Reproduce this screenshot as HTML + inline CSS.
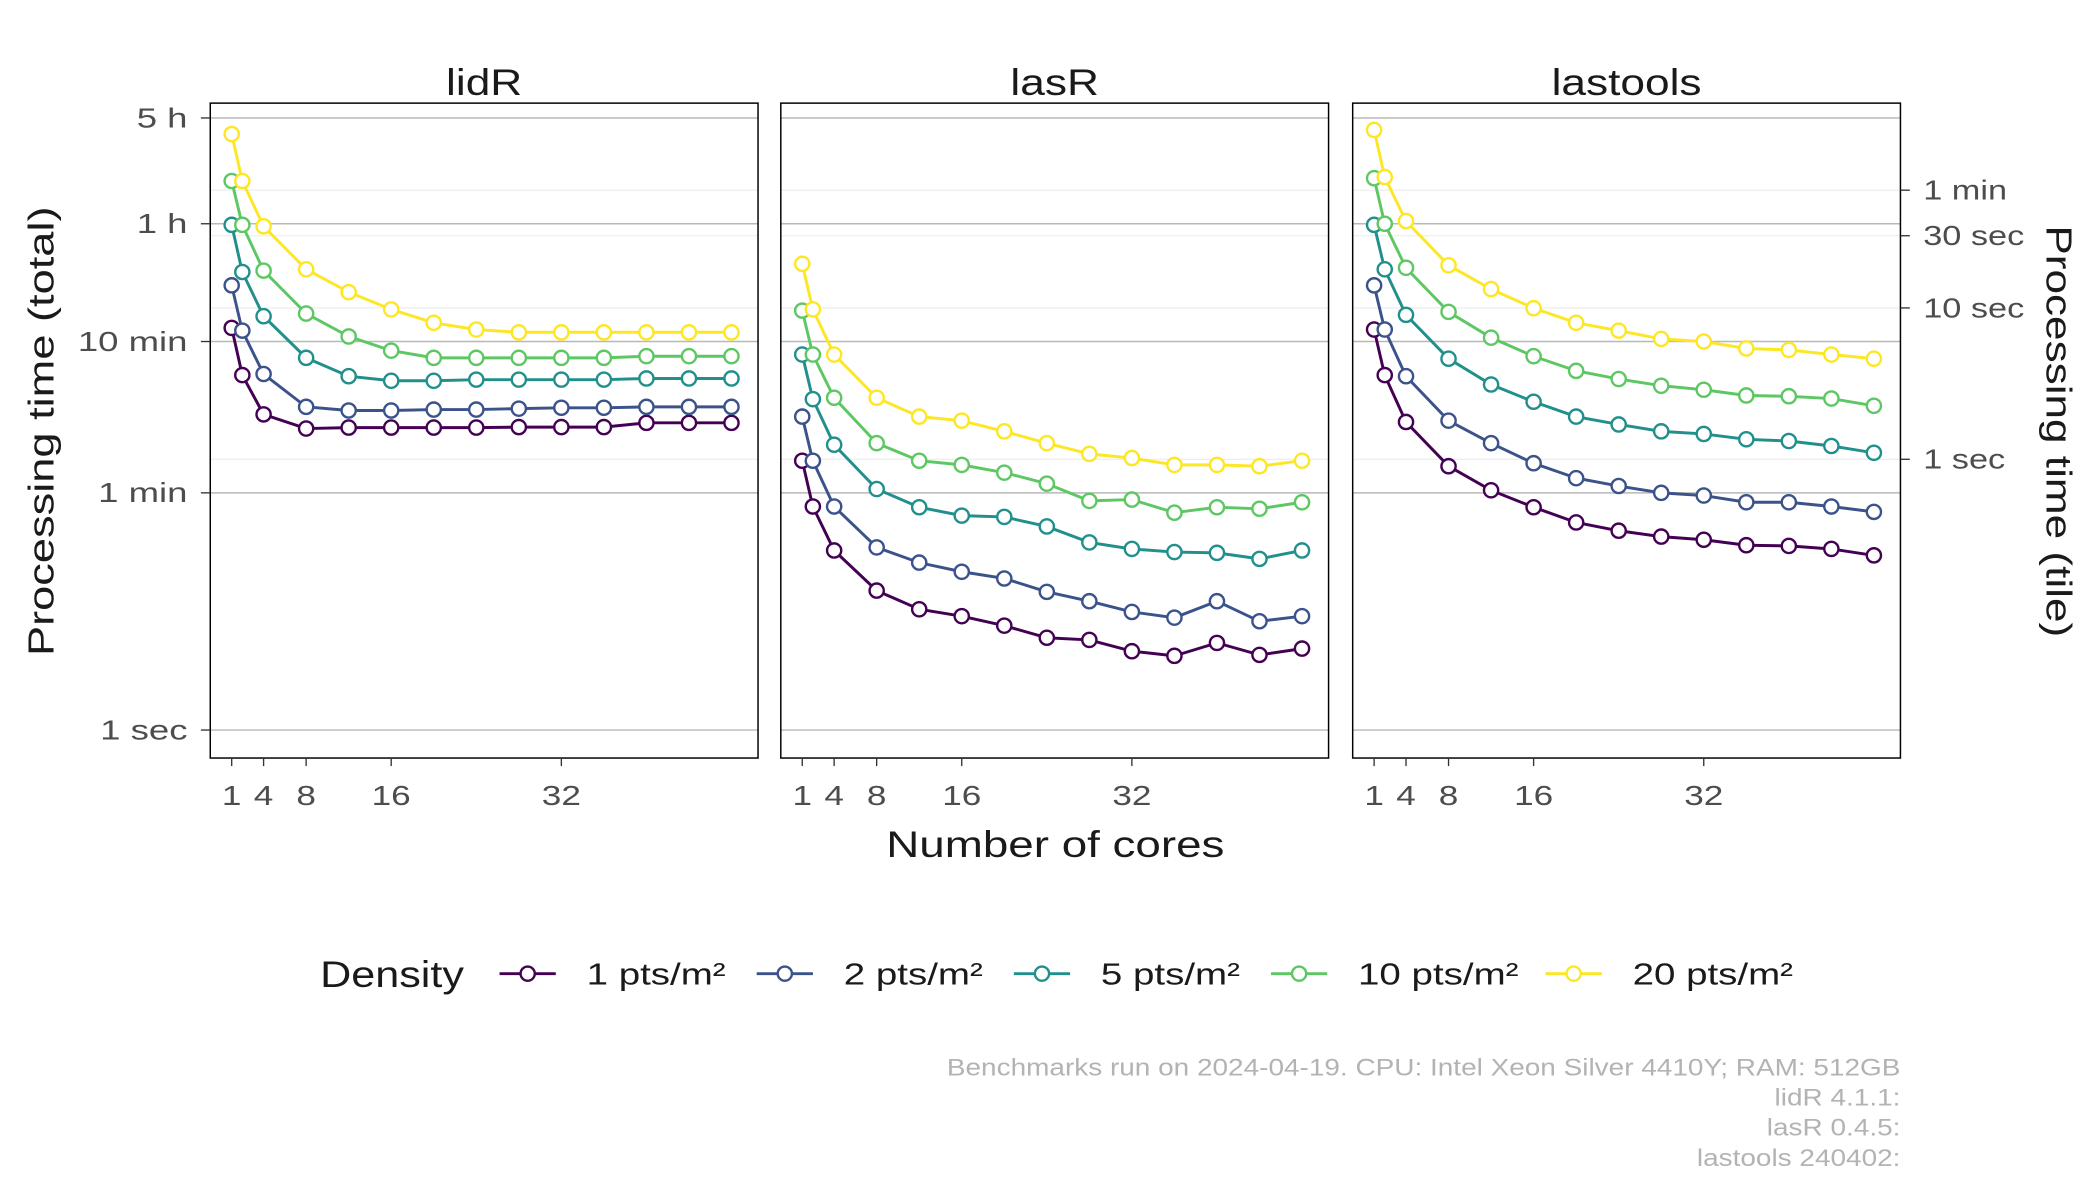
<!DOCTYPE html>
<html><head><meta charset="utf-8"><style>
html,body{margin:0;padding:0;background:#fff;}
svg{display:block;font-family:"Liberation Sans","DejaVu Sans",sans-serif;}
</style></head><body>
<svg id="chart" width="2100" height="1200" viewBox="0 0 1568 896" xmlns="http://www.w3.org/2000/svg">
<rect width="1568" height="896" fill="#fff"/>
<g id="root"></g>
</svg>
<script>
const cores = [1,2,4,8,12,16,20,24,28,32,36,40,44,48];
const panels = ["lidR","lasR","lastools"];
const densities = ["1 pts/m²","2 pts/m²","5 pts/m²","10 pts/m²","20 pts/m²"];
const colors = ["#440154","#3b528b","#21908c","#5dc863","#fde725"];
// processing time (total) in minutes
const lidR_1 = [12.3,6.0,3.3,2.66,2.7,2.7,2.7,2.7,2.72,2.72,2.72,2.9,2.9,2.9];
const lidR_2 = [23.5,11.8,6.1,3.7,3.5,3.5,3.55,3.55,3.6,3.65,3.65,3.7,3.7,3.7];
const lidR_5 = [59,28.8,14.7,7.8,5.9,5.5,5.5,5.6,5.6,5.6,5.6,5.7,5.7,5.7];
const lidR_10 = [115,59,29.4,15.3,10.8,8.7,7.8,7.8,7.8,7.8,7.8,8.0,8.0,8.0];
const lidR_20 = [235,115,57.7,30,21.2,16.3,13.3,12.0,11.5,11.5,11.5,11.5,11.5,11.5];
const lasR_1 = [1.63,0.79,0.37,0.185,0.134,0.119,0.101,0.082,0.079,0.065,0.060,0.075,0.061,0.068];
const lasR_2 = [3.19,1.63,0.79,0.39,0.30,0.256,0.228,0.181,0.154,0.128,0.116,0.154,0.109,0.119];
const lasR_5 = [8.2,4.16,2.08,1.06,0.78,0.675,0.66,0.56,0.425,0.38,0.36,0.355,0.32,0.37];
const lasR_10 = [16,8.2,4.25,2.13,1.63,1.53,1.36,1.15,0.87,0.89,0.71,0.78,0.76,0.85];
const lasR_20 = [32.6,16.3,8.2,4.25,3.19,3.0,2.55,2.13,1.81,1.70,1.53,1.53,1.50,1.63];
const lastools_1 = [12.0,6.0,2.94,1.50,1.04,0.78,0.60,0.52,0.47,0.445,0.405,0.40,0.38,0.34];
const lastools_2 = [23.5,12.0,5.9,3.0,2.13,1.57,1.25,1.11,1.0,0.955,0.85,0.85,0.79,0.72];
const lastools_5 = [59,30,15,7.7,5.2,4.0,3.19,2.83,2.55,2.45,2.26,2.2,2.04,1.84];
const lastools_10 = [120,60,30.7,15.7,10.6,8.0,6.4,5.65,5.1,4.8,4.4,4.35,4.2,3.76];
const lastools_20 = [250,122,62.5,31.9,22.2,16.6,13.3,11.8,10.4,10.0,9.0,8.8,8.2,7.7];
const seriesByPanel = [[lidR_1,lidR_2,lidR_5,lidR_10,lidR_20],[lasR_1,lasR_2,lasR_5,lasR_10,lasR_20],[lastools_1,lastools_2,lastools_5,lastools_10,lastools_20]];
const yTickVals = [300,60,10,1,1/60];
const yTickLabels = ["5 h","1 h","10 min","1 min","1 sec"];
const y2TickSecs = [60,30,10,1];
const y2TickLabels = ["1 min","30 sec","10 sec","1 sec"];
const tilesFactor = 100;
const xTicks = [1,4,8,16,32];

const NS="http://www.w3.org/2000/svg";
const root=document.getElementById('root');
const widen=[];
function el(tag,attrs,parent,text){const e=document.createElementNS(NS,tag);for(const k in attrs)e.setAttribute(k,attrs[k]);if(text!==undefined)e.textContent=text;(parent||root).appendChild(e);return e;}
function W(e,f){widen.push([e,f]);return e;}
const panelX0=[157,583,1010], PW=409, PT=77, PB=566;
function xScale(p,c){return panelX0[p]+16+(c-1)*7.94;}
function yScale(m){const l=Math.log10(m);return l>=0?368-l*113:368-l*99.6;}

for(let p=0;p<3;p++){
  const x0=panelX0[p];
  const g=el('g',{});
  
  
  y2TickSecs.forEach(s=>{const y=yScale(s*tilesFactor/60);el('line',{x1:x0,x2:x0+PW,y1:y,y2:y,stroke:'#ebebeb','stroke-width':0.8},g);});
  yTickVals.forEach(v=>{const y=yScale(v);el('line',{x1:x0,x2:x0+PW,y1:y,y2:y,stroke:'#b8b8b8','stroke-width':1.1},g);});
  el('rect',{x:x0,y:PT,width:PW,height:PB-PT,fill:'none',stroke:'#000','stroke-width':1.1},g);
  const t=W(el('text',{x:x0+PW/2,y:71,'text-anchor':'middle','font-size':28,fill:'#1a1a1a'},g,panels[p]),1.18);
  
  
  xTicks.forEach(c=>{const x=xScale(p,c);el('line',{x1:x,x2:x,y1:PB,y2:PB+6,stroke:'#333'},g);
    const tl=W(el('text',{x:x,y:601,'text-anchor':'middle','font-size':21,fill:'#4d4d4d'},g,String(c)),1.25);
    
    });
  seriesByPanel[p].forEach((vals,si)=>{
    const pts=vals.map((v,i)=>xScale(p,cores[i]).toFixed(1)+','+yScale(v).toFixed(1)).join(' ');
    const line=el('polyline',{points:pts,fill:'none',stroke:colors[si],'stroke-width':2.2},g);
    
    
    vals.forEach((v,i)=>{const c=el('circle',{cx:xScale(p,cores[i]),cy:yScale(v),r:5.3,fill:'#fff',stroke:colors[si],'stroke-width':1.8},g);
      
      });
  });
}
yTickVals.forEach((v,i)=>{const y=yScale(v);el('line',{x1:150,x2:157,y1:y,y2:y,stroke:'#333'});
  const t=W(el('text',{x:140,y:y+7,'text-anchor':'end','font-size':21,fill:'#4d4d4d'},root,yTickLabels[i]),1.3);
  
  });
y2TickSecs.forEach((s,i)=>{const y=yScale(s*tilesFactor/60);el('line',{x1:1419,x2:1426,y1:y,y2:y,stroke:'#333'});
  const t=W(el('text',{x:1436,y:y+7,'font-size':21,fill:'#4d4d4d'},root,y2TickLabels[i]),1.22);
  
  });
let t;
t=W(el('text',{x:0,y:0,transform:'translate(40,322) rotate(-90)','text-anchor':'middle','font-size':27,fill:'#1a1a1a'},root,'Processing time (total)'),1.25);


t=W(el('text',{x:0,y:0,transform:'translate(1528,322) rotate(90)','text-anchor':'middle','font-size':27,fill:'#1a1a1a'},root,'Processing time (tile)'),1.22);


t=W(el('text',{x:788,y:640,'text-anchor':'middle','font-size':28,fill:'#1a1a1a'},root,'Number of cores'),1.22);


const lg=el('g',{});


t=W(el('text',{x:239,y:737,'font-size':28,fill:'#1a1a1a'},lg,'Density'),1.15);


const keyX=[373,565,757,949,1154];
densities.forEach((d,i)=>{const e=el('g',{},lg);
  
  
  el('line',{x1:keyX[i],x2:keyX[i]+42,y1:727,y2:727,stroke:colors[i],'stroke-width':2.2},e);
  el('circle',{cx:keyX[i]+21,cy:727,r:5.3,fill:'#fff',stroke:colors[i],'stroke-width':1.8},e);
  W(el('text',{x:keyX[i]+65,y:735,'font-size':23,fill:'#1a1a1a'},e,d),1.25);});
const cap=["Benchmarks run on 2024-04-19. CPU: Intel Xeon Silver 4410Y; RAM: 512GB","lidR 4.1.1:","lasR 0.4.5:","lastools 240402:"];
cap.forEach((c,i)=>{const tt=W(el('text',{x:1419,y:803+i*22.5,'text-anchor':'end','font-size':18,fill:'#b3b3b3'},root,c),1.16);
  
  });
widen.forEach(([e,f])=>{const L=e.getComputedTextLength();if(L>0){e.setAttribute('textLength',(L*f).toFixed(1));e.setAttribute('lengthAdjust','spacingAndGlyphs');}});
</script>
</body></html>
